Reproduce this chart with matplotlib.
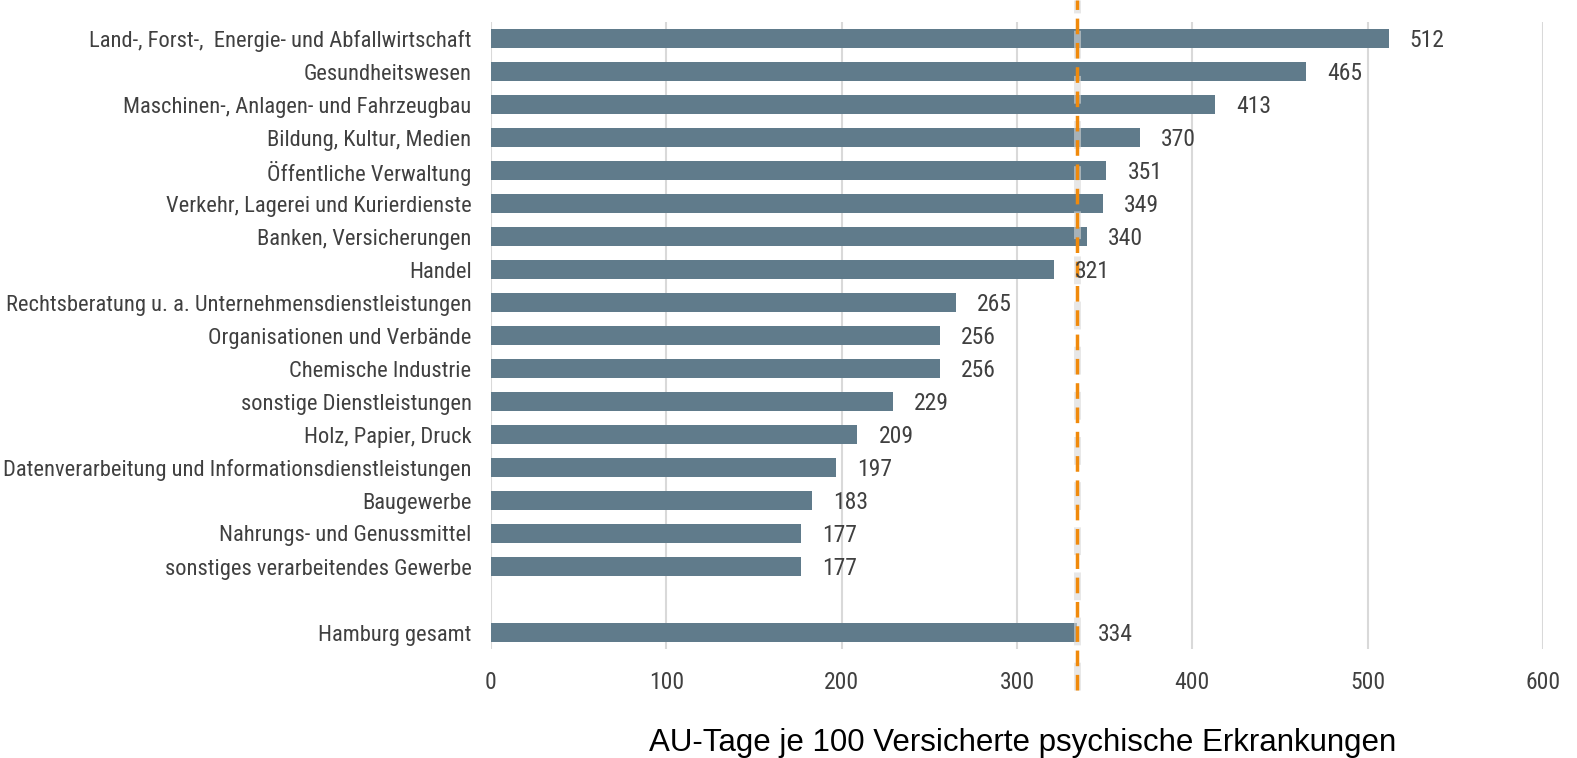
import matplotlib
matplotlib.use("Agg")
import matplotlib.pyplot as plt
import numpy as np

plt.rcParams["font.family"] = ["Roboto Condensed", "Archivo Narrow", "Liberation Sans", "DejaVu Sans"]

# Branchen, von oben nach unten
branchen = [
    "Land-, Forst-,  Energie- und Abfallwirtschaft",
    "Gesundheitswesen",
    "Maschinen-, Anlagen- und Fahrzeugbau",
    "Bildung, Kultur, Medien",
    "Öffentliche Verwaltung",
    "Verkehr, Lagerei und Kurierdienste",
    "Banken, Versicherungen",
    "Handel",
    "Rechtsberatung u. a. Unternehmensdienstleistungen",
    "Organisationen und Verbände",
    "Chemische Industrie",
    "sonstige Dienstleistungen",
    "Holz, Papier, Druck",
    "Datenverarbeitung und Informationsdienstleistungen",
    "Baugewerbe",
    "Nahrungs- und Genussmittel",
    "sonstiges verarbeitendes Gewerbe",
]
au_tage = [512, 465, 413, 370, 351, 349, 340, 321, 265, 256, 256, 229, 209, 197, 183, 177, 177]
gesamt_label = "Hamburg gesamt"
gesamt_wert = 334
x_ticks = [0, 100, 200, 300, 400, 500, 600]

bar_color = "#607b8b"
text_color = "#404040"

fig = plt.figure(figsize=(15.77, 7.58), dpi=100)
ax = fig.add_axes([491 / 1577, 1 - 649 / 758, (1543 - 491) / 1577, (649 - 22) / 758])

# Leerzeile zwischen Branchen und Gesamtwert
labels = branchen + [""] + [gesamt_label]
values = au_tage + [np.nan] + [gesamt_wert]
ypos = np.arange(len(labels))

ax.barh(ypos, values, height=0.6, color=bar_color, zorder=2)
for y, v in zip(ypos, values):
    if np.isnan(v):
        continue
    ax.text(v + 12, y + 0.05, f"{v:.0f}", va="center", ha="left", fontsize=17, color=text_color, zorder=4)

ax.set_ylim(len(labels) - 0.5, -0.5)
ax.set_xlim(0, 600)
ax.set_yticks(ypos)
ax.set_yticklabels(labels, fontsize=16.2, color=text_color)
ax.set_xticks(x_ticks)
ax.set_xticklabels([str(t) for t in x_ticks], fontsize=17, color=text_color)
ax.tick_params(axis="both", length=0)
ax.tick_params(axis="y", pad=14)
ax.tick_params(axis="x", pad=16)
ax.grid(axis="x", color="#d9d9d9", linewidth=1.5, zorder=0)
ax.set_axisbelow(True)
for s in ax.spines.values():
    s.set_visible(False)

# Durchschnitt Hamburg als gestrichelte Linie
ax.axvline(gesamt_wert, ymin=-0.065, ymax=1.035, color="#d8d8d8", linewidth=5,
           linestyle=(0, (4, 2.5)), alpha=0.6, clip_on=False, zorder=3)
ax.axvline(gesamt_wert, ymin=-0.065, ymax=1.035, color="#f08a0c", linewidth=2.5,
           linestyle=(0, (4.5, 2.5)), clip_on=False, zorder=3)

fig.text(1023 / 1577, 1 - 751 / 758,
         "AU-Tage je 100 Versicherte psychische Erkrankungen",
         ha="center", va="baseline", fontsize=22.5, color="black",
         family=["Liberation Sans", "DejaVu Sans"])

fig.savefig("out.png", dpi=100)
